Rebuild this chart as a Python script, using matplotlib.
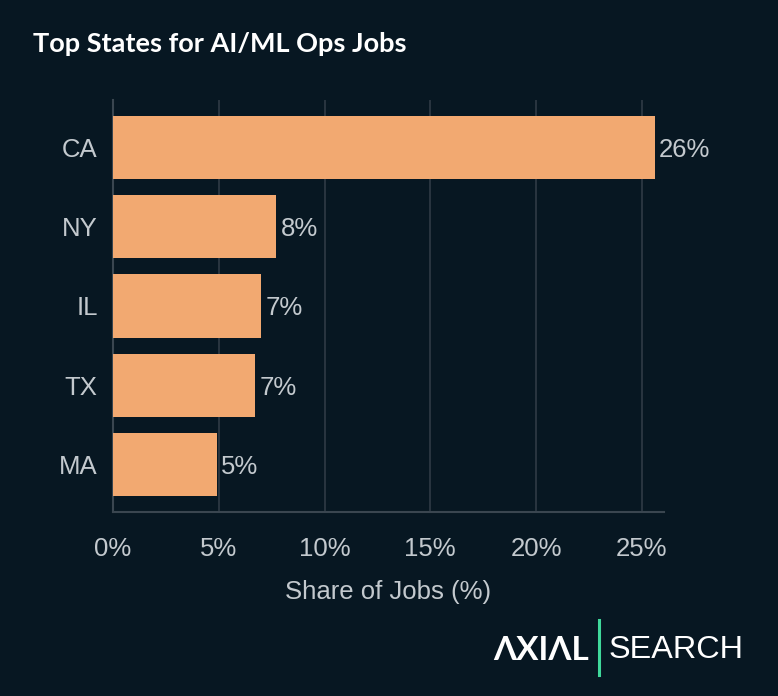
import matplotlib.pyplot as plt
from matplotlib.lines import Line2D

states = ["CA", "NY", "IL", "TX", "MA"]
share = [25.6, 7.7, 7.0, 6.7, 4.9]
bar_labels = ["26%", "8%", "7%", "7%", "5%"]
ticks = [0, 5, 10, 15, 20, 25]

bg = "#071722"
bar_color = "#f2a971"
text_color = "#c3c9ce"
grid_color = "#2f3b45"

fig = plt.figure(figsize=(7.78, 6.96), dpi=100, facecolor=bg)
ax = fig.add_axes([0.1452, 0.2644, 0.7083, 0.5919])
ax.set_facecolor(bg)

y = list(range(len(states)))
ax.barh(y, share, height=0.8, color=bar_color, zorder=3)
for yi, v, lab in zip(y, share, bar_labels):
    ax.text(v + 0.22, yi + 0.03, lab, va="center", ha="left", color=text_color,
            fontsize=18.5, family="Liberation Sans")

ax.set_ylim(4.6, -0.6)
ax.set_xlim(0, 26.05)
ax.set_yticks(y)
ax.set_yticklabels(states)
ax.set_xticks(ticks)
ax.set_xticklabels([f"{t}%" for t in ticks])
ax.tick_params(axis="both", length=0, colors=text_color, labelsize=18.5)
ax.tick_params(axis="y", pad=11)
ax.tick_params(axis="x", pad=18)
for lab in ax.get_xticklabels() + ax.get_yticklabels():
    lab.set_family("Liberation Sans")
ax.grid(axis="x", color=grid_color, linewidth=1.2, zorder=0)
for s in ["top", "right"]:
    ax.spines[s].set_visible(False)
ax.spines["left"].set_color("#3a4650")
ax.spines["bottom"].set_color("#3a4650")
ax.spines["left"].set_linewidth(1.5)
ax.spines["bottom"].set_linewidth(1.5)
ax.set_xlabel("Share of Jobs (%)", color=text_color, fontsize=18.5,
              family="Liberation Sans", labelpad=14)

fig.text(33 / 778, 1 - 44 / 696, "Top States for AI/ML Ops Jobs", color="white",
         fontsize=19.5, fontweight="bold", family=["Lato", "DejaVu Sans"], va="center")

# logo
fig.text(493 / 778, 1 - 650 / 696, "ΛXIΛL", color="white", fontsize=24,
         fontweight="bold", family=["Lato", "DejaVu Sans"], va="center")
fig.add_artist(Line2D([599 / 778, 599 / 778], [1 - 620 / 696, 1 - 675 / 696],
                      color="#3fd89b", linewidth=2.2, transform=fig.transFigure))
fig.text(609 / 778, 1 - 650 / 696, "SEARCH", color="white", fontsize=23.3,
         family="Liberation Sans", va="center")

fig.savefig("out.png", dpi=100, facecolor=bg)
